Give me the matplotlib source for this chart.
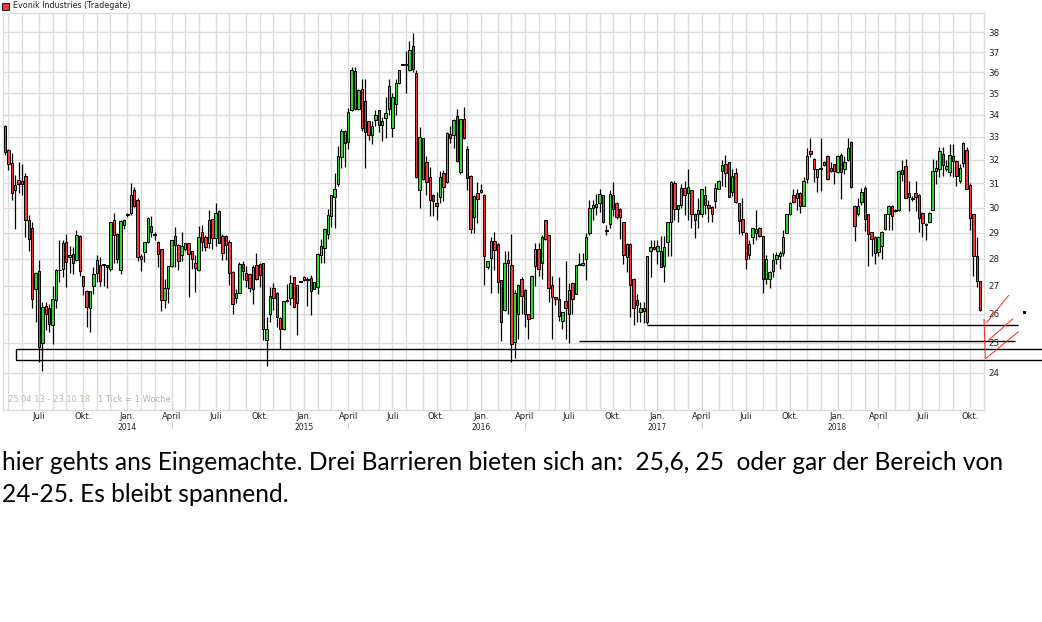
import numpy as np
import pandas as pd
import matplotlib
matplotlib.use('Agg')
import matplotlib.pyplot as plt
from matplotlib.patches import Rectangle
from matplotlib.ticker import NullLocator

# ── Data: weekly candles Evonik (Tradegate), 25.04.13 - 23.10.18 ─────────────
opens = [
    33.5, 32.4, 31.85, 30.7, 31.15, 31.1, 31.3, 29.5, 29.2, 26.88,
    27.54, 24.99, 26.27, 26.2, 25.6, 26.49, 27.56, 27.63, 28.64, 28.05,
    28.19, 27.96, 28.88, 27.34, 26.82, 26.18, 27.0, 27.47, 27.78, 27.78,
    27.75, 27.63, 29.49, 28.96, 27.58, 29.3, 29.7, 29.76, 30.72, 30.31,
    28.11, 28.26, 28.64, 29.25, 28.9, 28.65, 28.35, 26.49, 26.92, 27.74,
    28.88, 28.53, 28.13, 28.35, 28.58, 28.29, 27.85, 27.58, 29.03, 28.84,
    28.61, 29.53, 28.78, 29.86, 28.86, 28.86, 28.65, 27.5, 26.56, 26.75,
    27.8, 27.46, 27.44, 26.87, 27.78, 27.8, 27.84, 25.1, 26.0, 26.9,
    26.72, 25.85, 25.45, 26.44, 26.54, 27.31, 26.36, 27.15, 27.3, 27.25,
    27.28, 26.87, 26.96, 28.14, 28.4, 28.96, 29.64, 30.44, 30.96, 32.1,
    33.28, 32.75, 34.2, 36.08, 34.25, 35.2, 34.64, 33.7, 33.1, 33.77,
    34.22, 33.53, 33.84, 34.25, 33.4, 34.5, 35.5, 36.4, 36.35, 36.13,
    37.3, 35.95, 30.7, 32.93, 31.88, 31.25, 30.52, 30.2, 30.41, 31.41,
    31.03, 33.14, 33.1, 33.95, 31.48, 33.8, 32.45, 31.3, 29.63, 30.6,
    30.62, 30.53, 27.7, 28.03, 28.67, 28.57, 27.2, 26.12, 27.95, 27.77,
    25.03, 25.99, 27.24, 26.85, 25.99, 25.85, 27.73, 28.36, 27.84, 29.49,
    28.9, 27.03, 26.58, 26.5, 25.75, 26.45, 25.99, 27.1, 26.7, 27.77,
    27.76, 28.0, 29.0, 30.0, 30.03, 30.2, 30.5, 29.1, 29.35, 30.5,
    30.2, 29.95, 29.4, 28.05, 28.57, 27.26, 26.47, 26.05, 26.2, 25.72,
    28.3, 28.45, 28.3, 28.3, 27.72, 28.64, 29.4, 31.02, 29.93, 30.1,
    30.8, 30.6, 30.7, 29.75, 29.73, 29.73, 30.5, 30.1, 30.03, 30.27,
    30.77, 31.5, 31.82, 31.89, 30.63, 31.43, 30.17, 29.53, 29.0, 28.15,
    28.82, 29.0, 29.2, 28.86, 27.24, 27.25, 27.55, 28.0, 28.1, 28.2,
    28.99, 29.72, 30.5, 30.4, 30.6, 30.08, 31.19, 32.37, 32.05, 31.24,
    31.58, 31.75, 32.17, 31.5, 31.8, 31.47, 32.2, 31.6, 31.97, 32.75,
    30.08, 29.75, 30.22, 30.8, 29.72, 29.02, 28.2, 28.25, 28.5, 29.15,
    29.72, 30.08, 29.9, 29.88, 31.38, 31.73, 30.6, 30.35, 30.6, 30.53,
    29.76, 29.33, 29.4, 29.9, 31.53, 31.62, 32.26, 31.62, 31.47, 32.15,
    31.95, 31.1, 31.84, 32.4, 30.92, 29.72, 28.1, 27.16,
]
highs = [
    33.55, 32.45, 32.3, 31.35, 31.9, 31.8, 31.45, 29.7, 29.43, 27.5,
    27.96, 26.41, 26.42, 26.35, 27.0, 27.6, 28.7, 28.7, 28.96, 28.48,
    28.45, 29.09, 28.9, 27.35, 26.85, 26.8, 27.69, 28.13, 28.06, 27.8,
    27.78, 29.42, 29.77, 28.97, 29.49, 29.55, 29.77, 31.0, 30.83, 30.38,
    28.19, 28.64, 29.6, 29.67, 29.03, 28.66, 28.36, 27.24, 27.74, 28.7,
    29.22, 28.55, 29.03, 28.6, 28.6, 28.3, 28.15, 29.28, 29.3, 28.9,
    29.9, 29.55, 30.17, 29.9, 28.96, 28.9, 28.7, 27.55, 26.86, 27.87,
    27.9, 27.74, 27.45, 27.78, 28.21, 27.85, 27.85, 25.89, 26.96, 27.08,
    26.78, 25.87, 26.46, 27.05, 27.4, 27.33, 27.03, 27.18, 27.35, 27.32,
    27.4, 27.13, 28.2, 28.76, 29.17, 29.93, 30.53, 31.45, 32.6, 33.37,
    33.3, 34.3, 36.25, 36.25, 35.2, 35.7, 35.7, 33.72, 33.72, 34.22,
    34.24, 33.9, 34.8, 35.66, 35.0, 35.7, 36.12, 36.42, 37.05, 37.55,
    37.97, 36.1, 33.45, 32.95, 32.15, 31.7, 30.55, 30.65, 31.52, 31.55,
    33.2, 33.48, 33.8, 34.25, 33.82, 34.35, 32.6, 31.35, 30.5, 31.03,
    30.95, 30.55, 27.92, 28.84, 29.04, 28.6, 27.22, 28.3, 28.3, 28.93,
    26.85, 27.05, 27.32, 26.87, 26.0, 27.38, 28.6, 28.6, 28.9, 29.5,
    28.92, 27.37, 26.6, 27.3, 26.07, 27.9, 27.1, 27.15, 27.78, 28.2,
    28.2, 29.0, 30.3, 30.3, 30.55, 30.76, 30.52, 29.3, 30.7, 31.05,
    30.22, 29.97, 29.42, 28.6, 28.6, 27.28, 26.7, 26.4, 26.4, 28.1,
    28.7, 28.7, 28.7, 28.85, 28.85, 29.4, 31.1, 31.1, 30.12, 30.95,
    31.1, 31.6, 30.72, 29.77, 30.4, 30.76, 30.9, 30.3, 30.05, 31.0,
    31.12, 32.0, 32.2, 31.9, 31.6, 31.63, 30.2, 30.4, 29.02, 28.7,
    29.2, 29.9, 29.22, 28.88, 28.15, 27.52, 28.2, 28.25, 28.3, 29.1,
    29.74, 30.22, 30.75, 30.75, 30.62, 31.25, 32.5, 32.95, 32.07, 31.62,
    32.95, 31.94, 32.2, 31.9, 31.82, 32.2, 32.28, 32.17, 32.95, 32.8,
    30.12, 30.4, 30.8, 30.87, 29.74, 29.04, 28.85, 28.85, 29.05, 29.74,
    30.1, 30.1, 29.92, 31.55, 32.0, 32.03, 31.1, 30.45, 31.1, 30.55,
    29.8, 29.36, 29.8, 32.03, 32.0, 32.57, 32.57, 32.0, 32.7, 32.7,
    31.97, 31.8, 32.78, 32.57, 31.0, 29.74, 28.84, 27.18,
]
lows = [
    32.2, 31.55, 30.3, 29.15, 30.6, 30.5, 28.83, 28.3, 26.18, 25.71,
    24.35, 24.05, 25.44, 25.35, 24.97, 26.2, 27.12, 27.3, 26.94, 27.45,
    27.41, 27.9, 27.37, 26.65, 25.55, 25.35, 26.71, 27.12, 27.0, 27.0,
    26.9, 27.55, 27.85, 27.85, 27.43, 29.15, 29.6, 29.7, 30.03, 27.91,
    27.54, 27.88, 28.6, 28.83, 28.7, 27.69, 26.1, 26.18, 26.38, 27.69,
    27.69, 27.56, 27.91, 28.3, 26.59, 27.63, 26.76, 27.55, 28.28, 28.28,
    28.4, 28.36, 28.49, 28.6, 27.96, 27.96, 27.02, 25.98, 26.36, 26.72,
    27.19, 26.96, 26.78, 26.33, 27.2, 26.96, 25.08, 24.24, 25.71, 26.14,
    25.54, 24.78, 25.44, 26.4, 26.3, 26.2, 25.25, 27.12, 27.18, 26.28,
    25.94, 26.86, 26.68, 27.84, 27.84, 28.76, 29.22, 29.2, 30.9, 31.65,
    31.7, 32.45, 34.15, 34.2, 34.2, 33.25, 31.65, 32.88, 32.7, 33.5,
    33.2, 32.8, 32.97, 34.0, 33.0, 34.0, 35.45, 36.36, 35.0, 36.05,
    36.0, 31.2, 30.0, 31.15, 30.5, 29.66, 29.66, 29.5, 30.18, 30.25,
    31.0, 32.73, 32.5, 31.9, 31.38, 32.9, 30.73, 29.0, 29.0, 29.38,
    30.6, 27.03, 27.6, 26.72, 27.59, 26.72, 25.07, 26.1, 26.0, 24.37,
    24.48, 25.12, 25.99, 25.54, 25.12, 25.84, 27.0, 27.37, 27.26, 28.7,
    26.4, 25.12, 26.3, 25.75, 25.46, 25.12, 25.0, 26.0, 26.68, 27.75,
    27.74, 27.2, 28.9, 29.5, 29.7, 29.8, 29.38, 28.9, 29.2, 29.65,
    29.55, 28.75, 27.8, 27.5, 25.87, 25.62, 25.7, 25.7, 25.68, 25.65,
    27.3, 28.33, 27.8, 27.68, 27.15, 28.1, 28.1, 29.5, 29.4, 30.0,
    29.7, 29.5, 29.18, 28.8, 29.2, 29.6, 29.72, 29.4, 29.4, 30.0,
    30.75, 30.9, 30.85, 30.42, 30.45, 30.2, 28.95, 28.9, 27.6, 28.0,
    28.55, 28.7, 28.83, 26.75, 27.07, 26.9, 27.3, 27.8, 27.6, 28.1,
    28.97, 29.7, 30.2, 29.9, 29.78, 30.05, 31.0, 32.1, 31.04, 30.65,
    30.68, 31.73, 31.15, 31.48, 30.95, 31.45, 30.35, 31.4, 31.95, 30.78,
    28.68, 29.66, 30.1, 29.08, 27.72, 28.1, 27.8, 28.1, 28.0, 29.1,
    29.1, 29.1, 29.82, 29.86, 31.1, 30.38, 29.85, 30.25, 29.85, 29.03,
    28.83, 28.7, 29.38, 29.88, 30.95, 31.26, 31.3, 31.5, 31.3, 31.26,
    30.87, 31.0, 31.7, 30.74, 29.1, 27.37, 26.95, 26.08,
]
closes = [
    32.35, 31.8, 30.6, 30.92, 30.95, 30.96, 29.5, 28.75, 26.5, 27.47,
    24.84, 26.24, 26.0, 25.65, 26.53, 27.58, 27.58, 28.58, 27.88, 28.13,
    27.85, 28.9, 27.54, 26.98, 26.24, 26.79, 27.41, 27.94, 27.18, 27.76,
    27.7, 29.4, 28.9, 28.0, 29.45, 29.49, 29.72, 30.5, 30.06, 28.06,
    28.0, 28.64, 29.57, 29.03, 28.92, 28.17, 26.49, 26.92, 27.71, 28.7,
    28.51, 27.91, 28.5, 28.58, 28.19, 28.0, 27.66, 28.83, 28.65, 28.46,
    29.5, 28.78, 29.77, 28.61, 28.21, 28.53, 27.46, 26.33, 26.72, 27.8,
    27.52, 27.19, 26.93, 27.69, 27.24, 27.4, 25.45, 25.48, 26.63, 26.56,
    25.89, 25.48, 26.44, 26.46, 27.11, 26.22, 27.01, 27.15, 27.22, 27.2,
    26.82, 27.12, 28.18, 28.5, 29.15, 29.7, 30.52, 30.77, 32.17, 33.28,
    32.72, 34.12, 36.13, 34.25, 35.16, 33.4, 33.22, 33.1, 33.5, 33.98,
    33.53, 33.72, 34.1, 35.35, 34.8, 35.5, 36.1, 36.38, 36.42, 37.08,
    36.15, 31.28, 33.0, 31.17, 31.07, 30.29, 30.25, 30.08, 31.25, 30.84,
    33.17, 32.93, 33.77, 31.95, 33.8, 32.95, 31.2, 29.15, 30.46, 30.35,
    30.72, 28.09, 27.9, 28.67, 28.32, 27.12, 25.72, 27.84, 27.84, 24.97,
    26.75, 27.03, 26.63, 25.99, 25.8, 27.37, 28.36, 27.6, 28.84, 28.74,
    26.9, 26.58, 26.5, 25.93, 26.06, 26.18, 26.85, 26.5, 27.77, 27.8,
    27.84, 28.84, 30.0, 30.1, 30.16, 30.55, 29.4, 29.08, 30.55, 29.95,
    29.6, 29.6, 28.15, 28.57, 27.03, 26.2, 26.3, 26.2, 26.08, 28.1,
    28.46, 28.35, 28.5, 27.7, 28.46, 29.4, 31.05, 29.93, 30.1, 30.8,
    30.5, 30.86, 29.72, 29.5, 29.9, 30.74, 30.1, 30.0, 29.72, 30.8,
    31.1, 31.75, 31.45, 30.44, 31.3, 30.22, 29.45, 29.02, 28.0, 28.57,
    29.2, 29.15, 28.85, 27.24, 28.0, 27.5, 27.95, 28.15, 28.2, 28.82,
    29.72, 30.2, 30.22, 30.6, 30.08, 31.1, 32.17, 32.26, 31.6, 31.6,
    31.66, 31.92, 31.18, 31.66, 31.5, 32.17, 31.47, 31.9, 32.5, 30.83,
    29.26, 30.08, 30.63, 29.54, 28.96, 28.75, 28.82, 28.82, 29.02, 29.72,
    30.08, 29.66, 29.85, 31.53, 31.55, 30.4, 30.44, 30.37, 30.44, 29.58,
    29.38, 29.31, 29.76, 31.53, 31.66, 32.38, 31.76, 31.73, 32.2, 31.95,
    31.3, 31.63, 32.71, 30.76, 29.57, 28.1, 27.16, 26.12,
]
first_week = '2013-04-22'
price_ticks = list(range(24, 39))
month_names = {1: 'Jan.', 4: 'April', 7: 'Juli', 10: 'Okt.'}

# barriers from the annotation
barriers = [25.6, 25.05]
barrier_start = [189, 169]
zone = (24.41, 24.78)

# ── Colors ────────────────────────────────────────────────────────────────────
C_UP = '#2ed82e'
C_DOWN = '#f03a3a'
C_GRID = '#dcdcdc'

# ── Figure ────────────────────────────────────────────────────────────────────
W, H = 1042, 622
fig = plt.figure(figsize=(W / 100, H / 100), dpi=100, facecolor='white')


def px_box(x0, y0, x1, y1):
    return [x0 / W, 1 - y1 / H, (x1 - x0) / W, (y1 - y0) / H]


ax = fig.add_axes(px_box(3, 13, 984, 410))
ax.set_yscale('log')
ax.set_ylim(22.83, 39.0)
ax.set_xlim(-0.59, 288.1)
for s in ax.spines.values():
    s.set_color(C_GRID)
    s.set_linewidth(1)

o = np.array(opens)
h = np.array(highs)
l = np.array(lows)
c = np.array(closes)
x = np.arange(len(c))
start = pd.Timestamp(first_week)

# grid: one line per month (week holding the 1st) and per euro
month_starts = pd.date_range('2013-05-01', '2018-10-01', freq='MS')
month_idx = [(m - start).days // 7 for m in month_starts]
ax.vlines(month_idx, 22.83, 39.0, color=C_GRID, lw=1, zorder=0)
ax.hlines(price_ticks, -1, 289, color=C_GRID, lw=1, zorder=0)

# candles
ax.vlines(x, l, h, color='black', lw=0.9, zorder=2)
bottom = np.minimum(o, c)
height = np.maximum(np.abs(c - o), 0.03)
ax.bar(x, height, bottom=bottom, width=0.72,
       color=np.where(c >= o, C_UP, C_DOWN), edgecolor='black', linewidth=0.7, zorder=3)

# y labels on the right
ax.yaxis.set_minor_locator(NullLocator())
ax.set_yticks(price_ticks)
ax.set_yticklabels([str(p) for p in price_ticks])
ax.yaxis.tick_right()
ax.tick_params(axis='y', length=0, pad=3, labelsize=6.3, colors='#222222')
ax.set_xticks([])

# month / year labels
xt = ax.get_xaxis_transform()
for m, i in zip(month_starts, month_idx):
    if m.month in month_names:
        ax.text(i, -0.0176, month_names[m.month], transform=xt, ha='center', va='center',
                fontsize=6, color='#222222', clip_on=False)
        if m.month == 1:
            ax.text(i, -0.043, str(m.year), transform=xt, ha='center', va='center',
                    fontsize=5.5, color='#222222', clip_on=False)
        if m.month == 4:
            ax.plot([i, i], [-0.032, -0.045], transform=xt, color='#c8c8c8', lw=0.8, clip_on=False)

# ── Annotations ───────────────────────────────────────────────────────────────
ax.add_patch(Rectangle((3.24, zone[0]), 320, zone[1] - zone[0], fill=False,
                       ec='black', lw=1, clip_on=False, zorder=4))
ax.hlines(barriers[0], barrier_start[0], 298.1, color='black', lw=1, clip_on=False, zorder=4)
ax.hlines(barriers[1], barrier_start[1], 297.2, color='black', lw=1, clip_on=False, zorder=4)

red_kw = dict(color='#ff2020', lw=0.7, clip_on=False, zorder=5)
ax.plot([288.1, 288.5], [25.8, 24.48], **red_kw)
ax.plot([288.7, 298.2], [24.48, 25.37], **red_kw)
ax.plot([289.4, 296.6], [25.08, 25.82], **red_kw)
ax.plot([288.9, 295.3], [25.69, 26.64], **red_kw)
ax.plot([299.9], [26.05], marker='s', ms=1.3, color='black', clip_on=False)

# ── Header / info ─────────────────────────────────────────────────────────────
fig.patches.append(Rectangle((2 / W, 1 - 10 / H), 7 / W, 7 / H, transform=fig.transFigure,
                             fc=C_DOWN, ec='black', lw=0.6))
fig.text(13 / W, 1 - 6 / H, 'Evonik Industries (Tradegate)', fontsize=5.8,
         va='center', ha='left', color='#222222')
fig.text(8 / W, 1 - 400 / H, '25.04.13 - 23.10.18', fontsize=6, va='center',
         color='#c2b4a0')
fig.text(98 / W, 1 - 400 / H, '1 Tick = 1 Woche', fontsize=6, va='center',
         color='#b0b0b0')

# ── Comment below the chart ──────────────────────────────────────────────────
line1 = 'hier gehts ans Eingemachte. Drei Barrieren bieten sich an:  25,6, 25  oder gar der Bereich von'
line2 = '24-25. Es bleibt spannend.'
t1 = fig.text(2 / W, 1 - 462 / H, line1, fontsize=16, family='Lato', va='center', color='black')
fig.canvas.draw()
fs = 16 * 1006 / t1.get_window_extent().width
t1.set_fontsize(fs)
fig.text(2 / W, 1 - 494 / H, line2, fontsize=fs, family='Lato', va='center', color='black')

fig.savefig('out.png', dpi=100, facecolor='white')
